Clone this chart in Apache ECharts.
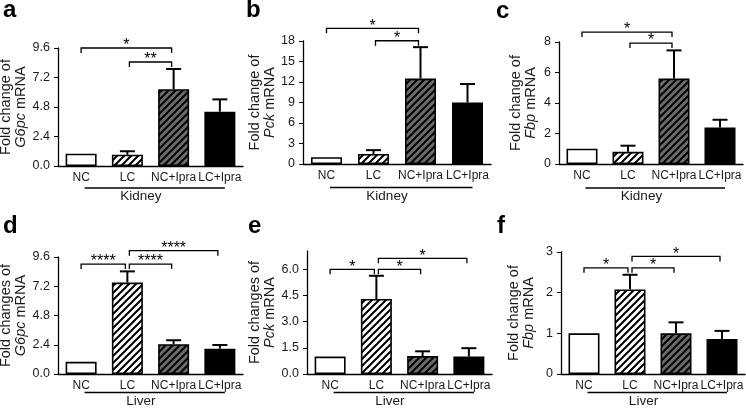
<!DOCTYPE html>
<html><head><meta charset="utf-8">
<script src="https://cdn.jsdelivr.net/npm/echarts@6/dist/echarts.min.js"></script>
<style>html,body{margin:0;padding:0;background:#fff}#c{width:746px;height:409px}</style>
</head><body><div id="c"></div>
<script>
// ---------- data ----------
const categories = ['NC', 'LC', 'NC+Ipra', 'LC+Ipra'];
const panelLetters = ['a', 'b', 'c', 'd', 'e', 'f'];
const tissues = ['Kidney', 'Kidney', 'Kidney', 'Liver', 'Liver', 'Liver'];
const titleLine1 = ['Fold change of', 'Fold change of', 'Fold change of', 'Fold changes of', 'Fold changes of', 'Fold change of'];
const geneNames = ['G6pc', 'Pck', 'Fbp', 'G6pc', 'Pck', 'Fbp'];

const aMean = [1.0, 0.92, 6.25, 4.42];  const aErr = [0, 0.28, 1.64, 1.0];
const bMean = [1.0, 1.48, 12.5, 9.0];   const bErr = [0, 0.55, 4.6, 2.7];
const cMean = [1.0, 0.8, 5.6, 2.4];     const cErr = [0, 0.4, 1.85, 0.5];
const dMean = [1.0, 7.5, 2.45, 2.08];   const dErr = [0, 0.92, 0.32, 0.3];
const eMean = [1.0, 4.3, 1.03, 1.0];    const eErr = [0, 1.33, 0.27, 0.48];
const fMean = [1.0, 2.08, 1.0, 0.86];   const fErr = [0, 0.36, 0.27, 0.2];

const aTicks = [0, 2.4, 4.8, 7.2, 9.6];
const bTicks = [0, 3, 6, 9, 12, 15, 18];
const cTicks = [0, 2, 4, 6, 8];
const dTicks = [0, 2.4, 4.8, 7.2, 9.6];
const eTicks = [0, 1.5, 3.0, 4.5, 6.0];
const fTicks = [0, 1, 2, 3];
const axisMax = [9.6, 18, 8, 9.6, 7.05, 3];
const tickDecimals = [1, 0, 0, 1, 1, 0];

// significance brackets: [fromCategory, toCategory, height, label]
const aBrackets = [[0, 2, 9.6, '*'], [1, 2, 8.46, '**']];
const bBrackets = [[0, 2, 19.86, '*'], [1, 2, 18.04, '*']];
const cBrackets = [[0, 2, 8.65, '*'], [1, 2, 7.93, '*']];
const dBrackets = [[0, 1, 9.02, '****'], [1, 2, 9.02, '****'], [1, 3, 10.12, '****']];
const eBrackets = [[0, 1, 6.0, '*'], [1, 2, 6.0, '*'], [1, 3, 6.63, '*']];
const fBrackets = [[0, 1, 2.61, '*'], [1, 2, 2.61, '*'], [1, 3, 2.89, '*']];

const means = [aMean, bMean, cMean, dMean, eMean, fMean];
const errs = [aErr, bErr, cErr, dErr, eErr, fErr];
const ticks = [aTicks, bTicks, cTicks, dTicks, eTicks, fTicks];
const brackets = [aBrackets, bBrackets, cBrackets, dBrackets, eBrackets, fBrackets];

// ---------- layout / style ----------
const FONT = "'Liberation Sans', Arial, sans-serif";
const TXT = '#1a1a1a';
const grids = [
  { left: 58,  top: 48,  width: 185, height: 118 },
  { left: 303, top: 41,  width: 188, height: 123 },
  { left: 559, top: 42,  width: 184, height: 122 },
  { left: 58,  top: 257, width: 185, height: 117 },
  { left: 307, top: 251, width: 185, height: 123 },
  { left: 561, top: 252, width: 184, height: 122 }
];
const nameGaps = [20.5, 20, 21, 28, 27, 25];
const underlineGap = [22, 23.5, 24, 18.5, 18.5, 18.5];
const letterPos = [[3, 17], [246, 17], [496, 18], [3, 233], [248, 233], [497, 233]];

function hatch(bg) {
  const s = 7, c = document.createElement('canvas');
  c.width = s; c.height = s;
  const ctx = c.getContext('2d');
  ctx.fillStyle = bg; ctx.fillRect(0, 0, s, s);
  ctx.strokeStyle = '#000'; ctx.lineWidth = 2;
  ctx.beginPath();
  ctx.moveTo(-1, s + 1); ctx.lineTo(s + 1, -1);
  ctx.moveTo(-1, 1); ctx.lineTo(1, -1);
  ctx.moveTo(s - 1, s + 1); ctx.lineTo(s + 1, s - 1);
  ctx.stroke();
  return { image: c, repeat: 'repeat' };
}
const barFills = ['#ffffff', hatch('#ffffff'), hatch('#6c6c6c'), '#000000'];

function errRenderer(params, api) {
  const x = api.value(0), m = api.value(1), e = api.value(2);
  if (!e) return null;
  const p0 = api.coord([x, m]), p1 = api.coord([x, m + e]);
  return { type: 'group', children: [
    { type: 'line', shape: { x1: p0[0], y1: p0[1], x2: p1[0], y2: p1[1] }, style: { stroke: '#000', lineWidth: 2 } },
    { type: 'line', shape: { x1: p1[0] - 7.5, y1: p1[1], x2: p1[0] + 7.5, y2: p1[1] }, style: { stroke: '#000', lineWidth: 2 } }
  ]};
}
function bracketRenderer(brs) {
  return function (params, api) {
    const b = brs[params.dataIndex];
    const pA = api.coord([b[0], b[2]]), pB = api.coord([b[1], b[2]]);
    const x1 = pA[0] + (b[0] > 0 ? 2 : 0), x2 = pB[0] - 2, y = pA[1];
    return { type: 'group', children: [
      { type: 'polyline', shape: { points: [[x1, y + 5], [x1, y], [x2, y], [x2, y + 5]] },
        style: { stroke: '#000', lineWidth: 1.3, fill: 'none' } },
      { type: 'text', style: { text: b[3], x: (x1 + x2) / 2, y: y + 6, align: 'center', verticalAlign: 'bottom',
        fontSize: 16, fontFamily: FONT, fill: '#000' } }
    ]};
  };
}
function groupRenderer(i) {
  return function (params, api) {
    const p0 = api.coord([0, 0]), p1 = api.coord([1, 0]), p3 = api.coord([3, 0]);
    const x1 = p0[0] + 3.5, x2 = p3[0] + 5, y = p0[1] + underlineGap[i];
    return { type: 'group', children: [
      { type: 'line', shape: { x1: x1, y1: y, x2: x2, y2: y }, style: { stroke: '#000', lineWidth: 1.5 } },
      { type: 'text', style: { text: tissues[i], x: p1[0] + 13.5, y: y + 8.5, align: 'center', verticalAlign: 'middle',
        fontSize: 13.5, fontFamily: FONT, fill: TXT } }
    ]};
  };
}

const option = { animation: false, backgroundColor: '#fff', grid: [], xAxis: [], yAxis: [], series: [], graphic: [] };

for (let i = 0; i < 6; i++) {
  option.grid.push(Object.assign({ outerBoundsMode: 'none', containLabel: false }, grids[i]));
  option.xAxis.push({
    type: 'category', gridIndex: i, data: categories,
    axisLine: { lineStyle: { color: '#000', width: 1.3 } },
    axisTick: { alignWithLabel: true, length: 3, lineStyle: { color: '#000' } },
    axisLabel: { color: TXT, fontSize: 12, fontFamily: FONT, margin: 6, interval: 0 }
  });
  const dec = tickDecimals[i];
  option.yAxis.push({
    type: 'value', gridIndex: i, min: 0, max: axisMax[i],
    splitLine: { show: false },
    axisLine: { show: true, lineStyle: { color: '#000', width: 1.3 } },
    axisTick: { show: true, length: 4, customValues: ticks[i], lineStyle: { color: '#000' } },
    axisLabel: { color: TXT, fontSize: 12.5, fontFamily: FONT, margin: 8, customValues: ticks[i],
      formatter: v => v.toFixed(dec) },
    name: titleLine1[i] + '\n{i|' + geneNames[i] + '} mRNA',
    nameLocation: 'middle', nameGap: nameGaps[i], nameRotate: 90,
    nameTextStyle: { color: TXT, fontSize: 14.5, fontFamily: FONT, lineHeight: 15, align: 'center',
      rich: { i: { fontStyle: 'italic', fontSize: 14.5, fontFamily: FONT, color: TXT, lineHeight: 15 } } }
  });
  option.series.push({
    type: 'bar', xAxisIndex: i, yAxisIndex: i, barWidth: 31,
    data: means[i].map((v, k) => ({ value: v, itemStyle: { color: barFills[k] } })),
    itemStyle: { borderColor: '#000', borderWidth: 1.6 }, z: 2
  });
  option.series.push({
    type: 'custom', xAxisIndex: i, yAxisIndex: i, renderItem: errRenderer, z: 3, clip: false,
    encode: { x: 0, y: 1 },
    data: means[i].map((v, k) => [k, v, errs[i][k]])
  });
  option.series.push({
    type: 'custom', xAxisIndex: i, yAxisIndex: i, renderItem: bracketRenderer(brackets[i]), z: 4, clip: false,
    encode: { x: 0, y: 1 },
    data: brackets[i].map(b => [b[0], b[2]])
  });
  option.series.push({
    type: 'custom', xAxisIndex: i, yAxisIndex: i, renderItem: groupRenderer(i), z: 4, clip: false,
    encode: { x: 0, y: 1 },
    data: [[0, 0]]
  });
  option.graphic.push({
    type: 'text', left: letterPos[i][0], top: letterPos[i][1] - 19,
    style: { text: panelLetters[i], fontSize: 24, fontWeight: 'bold', fontFamily: FONT, fill: '#000' }
  });
}

const chart = echarts.init(document.getElementById('c'), null, { renderer: 'canvas' });
chart.setOption(option);
</script>
</body></html>
